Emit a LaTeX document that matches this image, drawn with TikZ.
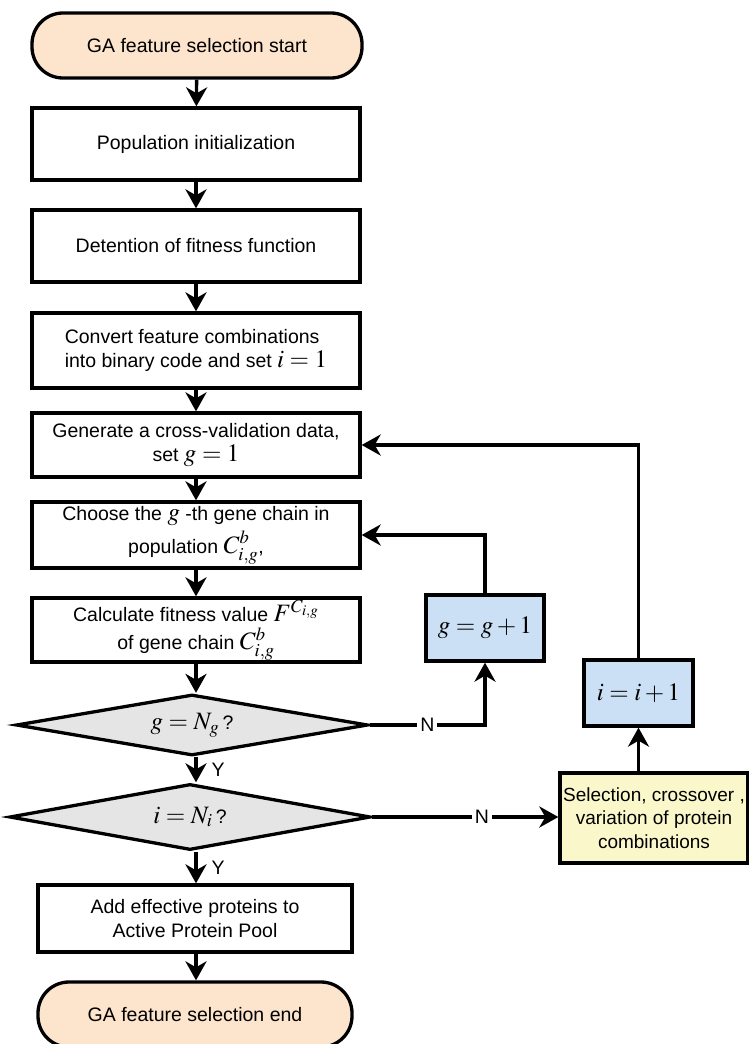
\documentclass[tikz,border=0pt]{standalone}
\usepackage{mathptmx}
\usepackage[no-math]{fontspec}
\setmainfont{Liberation Sans}
\usetikzlibrary{arrows.meta,shapes.geometric}
\definecolor{peach}{RGB}{252,228,205}
\definecolor{lblue}{RGB}{204,224,245}
\definecolor{lyellow}{RGB}{250,248,202}
\definecolor{lgray}{RGB}{229,229,229}
\newcommand{\M}[1]{{\fontsize{25}{26}\selectfont$#1$}}
\begin{document}
\begin{tikzpicture}[x=1pt,y=-1pt,
  font=\fontsize{19.5}{23.5}\selectfont,
  line width=3.3pt,
  box/.style={draw, fill=white, inner sep=0pt, align=center, minimum width=328pt},
  term/.style={draw, fill=peach, rounded corners=31pt, inner sep=0pt, minimum width=330pt, minimum height=65pt},
  dia/.style={draw, fill=lgray, diamond, aspect=5.8, inner sep=0pt},
  bbox/.style={draw, fill=lblue, inner sep=0pt, minimum height=66pt},
  arr/.style={-{Stealth[length=19pt,width=21pt,inset=6pt]}},
  lab/.style={fill=white, inner sep=3pt},
  ylab/.style={right=14pt, inner sep=0pt}]
\useasboundingbox (0,0) rectangle (749,1044);

\node[term] (start) at (197,45.5) {GA feature selection start};
\node[box, minimum height=72pt] (b1) at (196,144) {Population initialization};
\node[box, minimum height=72pt] (b2) at (196,246) {Detention of fitness function};
\node[box, minimum height=75pt, align=left] (b3) at (196,350.5) {Convert feature combinations\\into binary code and set \M{i=1}};
\node[box, minimum height=64pt] (b4) at (196,445) {Generate a cross-validation data,\\set \M{g=1}};
\node[box, minimum height=66pt] (b5) at (196,535) {Choose the \M{g} -th gene chain in\\[5pt]population \M{C^{b}_{i,g}},};
\node[box, minimum height=64pt] (b6) at (196,630) {Calculate fitness value \M{F^{C_{i,g}}}\\[4pt]of gene chain \M{C^{b}_{i,g}}};
\node[dia, minimum width=352pt, minimum height=61pt] (d1) at (192,725) {\M{g=N_g}\,?};
\node[dia, minimum width=361pt, minimum height=66pt] (d2) at (190,817) {\M{i=N_i}\,?};
\node[box, minimum width=314pt, minimum height=67pt] (b7) at (195,918.5) {Add effective proteins to\\Active Protein Pool};
\node[term, minimum width=314pt] (end) at (195,1014.5) {GA feature selection end};

\node[bbox, minimum width=118pt] (gb) at (485,628) {\M{g=g+1}};
\node[bbox, minimum width=109pt] (ib) at (638.5,693) {\M{i=i+1}};
\node[draw, fill=lyellow, inner sep=0pt, align=center, minimum width=188pt, minimum height=90pt,
  font=\fontsize{19}{23.3}\selectfont] (sel) at (654,818) {Selection, crossover ,\\variation of protein\\combinations};

\draw[arr] (start) -- (b1);
\draw[arr] (b1) -- (b2);
\draw[arr] (b2) -- (b3);
\draw[arr] (b3) -- (b4);
\draw[arr] (b4) -- (b5);
\draw[arr] (b5) -- (b6);
\draw[arr] (b6.south) -- (b6.south |- d1.north);
\draw[arr] (b6.south |- d1.south) -- node[ylab]{Y} (b6.south |- d2.north);
\draw[arr] (b6.south |- d2.south) -- node[ylab]{Y} (b6.south |- b7.north);
\draw[arr] (b7.south -| b6.south) -- (b6.south |- end.north);

\draw[arr] (d1.east) -- node[lab]{N} (d1.east -| gb.south) -- (gb.south);
\draw[arr] (gb.north) |- (b5.east);
\draw[arr] (d2.east) -- node[lab, pos=0.59]{N} (d2.east -| sel.west);
\draw[arr] (ib.south |- sel.north) -- (ib.south);
\draw[arr] (ib.north) |- (b4.east);
\end{tikzpicture}
\end{document}
